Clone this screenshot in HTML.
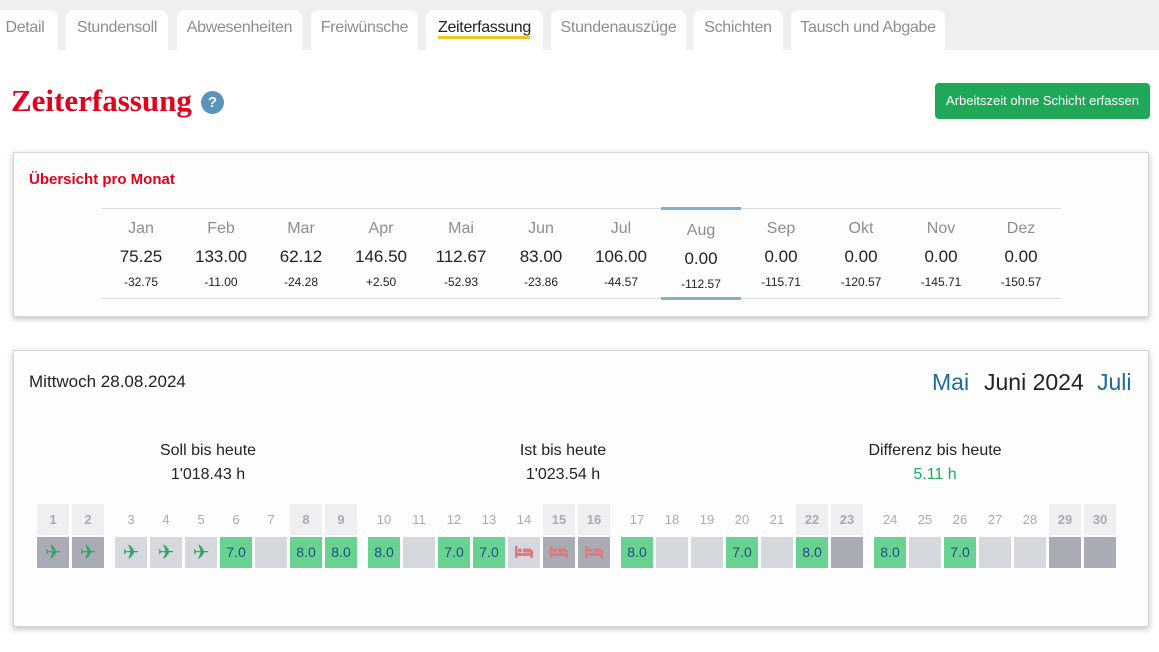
<!DOCTYPE html>
<html><head><meta charset="utf-8"><style>
*{box-sizing:border-box;margin:0;padding:0}
body{width:1159px;height:652px;background:#fff;font-family:"Liberation Sans Narrow","Liberation Sans",sans-serif;position:relative;overflow:hidden;color:#222}
.a{position:absolute}
.bar{left:0;top:0;width:1159px;height:50px;background:#eeeff1}
.tab{top:10px;height:40px;background:#fff;border-radius:8px 8px 0 0;color:#8a8d93;font-size:16px;line-height:36px;text-align:center;letter-spacing:-0.3px}
.card{background:#fdfdfd;border:1px solid #d6d6d6;box-shadow:0 2px 6px rgba(0,0,0,.25)}
.m{width:80px;text-align:center}
.c{width:32px;height:31px;text-align:center;font-size:13px}
.h{top:504px;line-height:31px;color:#a9abb0;font-size:13px}
.hw{background:#eeeff1;font-weight:bold}
.b{top:537px;line-height:31px;color:#1e4f7a;font-size:14px}
.dk{background:#a9acb4}.lt{background:#d5d8dc}.gr{background:#68d391}
.pl{color:#38a169;font-family:"DejaVu Sans",sans-serif;font-size:20px;line-height:31px}
</style></head><body>
<div class="a bar"></div>
<div class="a tab" style="left:-8px;width:66px">Detail</div>
<div class="a tab" style="left:66px;width:102px">Stundensoll</div>
<div class="a tab" style="left:177px;width:125px">Abwesenheiten</div>
<div class="a tab" style="left:311px;width:107px">Freiwünsche</div>
<div class="a tab" style="left:426px;width:117px;color:#222">Zeiterfassung</div>
<div class="a" style="left:438px;top:36px;width:92px;height:3px;background:#f5c518"></div>
<div class="a tab" style="left:551px;width:135px">Stundenauszüge</div>
<div class="a tab" style="left:693px;width:90px">Schichten</div>
<div class="a tab" style="left:791px;width:154px">Tausch und Abgabe</div>

<div class="a" style="left:11px;top:83px;font-family:'Liberation Serif',serif;font-weight:bold;font-size:31px;color:#e3001b">Zeiterfassung</div>
<div class="a" style="left:201px;top:91px;width:23px;height:23px;border-radius:50%;background:#5b93bd;color:#fff;font-weight:bold;font-size:15px;line-height:23px;text-align:center">?</div>
<div class="a" style="left:935px;top:83px;width:215px;height:36px;background:#1fa857;border-radius:4px;color:#fff;font-size:13px;line-height:36px;text-align:center">Arbeitszeit ohne Schicht erfassen</div>

<div class="a card" style="left:13px;top:152px;width:1136px;height:165px"></div>
<div class="a" style="left:29px;top:171px;color:#e3001b;font-weight:bold;font-size:15px">Übersicht pro Monat</div>
<div class="a" style="left:101px;top:208px;width:960px;height:1px;background:#dcdcdc"></div>
<div class="a" style="left:101px;top:298px;width:960px;height:1px;background:#dcdcdc"></div>
<div class="a" style="left:661px;top:207px;width:80px;height:3px;background:#88b0cc"></div>
<div class="a" style="left:661px;top:297px;width:80px;height:3px;background:#88b0cc"></div>
<div class="a" style="left:101px;top:220px;width:960px;height:80px;font-size:16px">
<div style="display:flex;color:#8a8d93"><div class="m">Jan</div><div class="m">Feb</div><div class="m">Mar</div><div class="m">Apr</div><div class="m">Mai</div><div class="m">Jun</div><div class="m">Jul</div><div class="m" style="margin-top:2px">Aug</div><div class="m">Sep</div><div class="m">Okt</div><div class="m">Nov</div><div class="m">Dez</div></div>
<div style="display:flex;margin-top:7px;color:#222;font-size:17px"><div class="m">75.25</div><div class="m">133.00</div><div class="m">62.12</div><div class="m">146.50</div><div class="m">112.67</div><div class="m">83.00</div><div class="m">106.00</div><div class="m" style="margin-top:2px">0.00</div><div class="m">0.00</div><div class="m">0.00</div><div class="m">0.00</div><div class="m">0.00</div></div>
<div style="display:flex;margin-top:6px;font-size:12px;color:#222"><div class="m">-32.75</div><div class="m">-11.00</div><div class="m">-24.28</div><div class="m">+2.50</div><div class="m">-52.93</div><div class="m">-23.86</div><div class="m">-44.57</div><div class="m" style="margin-top:2px">-112.57</div><div class="m">-115.71</div><div class="m">-120.57</div><div class="m">-145.71</div><div class="m">-150.57</div></div>
</div>

<div class="a card" style="left:13px;top:350px;width:1136px;height:277px"></div>
<div class="a" style="left:29px;top:372px;font-size:17px">Mittwoch 28.08.2024</div>
<div class="a" style="left:932px;top:369px;font-size:23px;color:#1e6b9a">Mai</div>
<div class="a" style="left:984px;top:369px;font-size:23px;color:#222">Juni 2024</div>
<div class="a" style="left:1097px;top:369px;font-size:23px;color:#1e6b9a">Juli</div>
<div class="a" style="left:108px;top:439px;width:200px;text-align:center;font-size:16px;line-height:24px">Soll bis heute<br>1'018.43 h</div>
<div class="a" style="left:463px;top:439px;width:200px;text-align:center;font-size:16px;line-height:24px">Ist bis heute<br>1'023.54 h</div>
<div class="a" style="left:835px;top:439px;width:200px;text-align:center;font-size:16px;line-height:24px">Differenz bis heute<br><span style="color:#1fa860">5.11 h</span></div>

<svg width="0" height="0" style="position:absolute"><defs><g id="bed"><rect x="0" y="0" width="2.5" height="12" fill="#e07a80"/><rect x="0" y="7" width="18" height="3" fill="#e07a80"/><rect x="15.5" y="4" width="2.5" height="8" fill="#e07a80"/><circle cx="5" cy="4.5" r="2" fill="#e07a80"/><rect x="8" y="2.5" width="8" height="4" fill="#e07a80"/></g></defs></svg>

<div class="a c h hw" style="left:37px">1</div><div class="a c h hw" style="left:72px">2</div>
<div class="a c h" style="left:115px">3</div><div class="a c h" style="left:150px">4</div><div class="a c h" style="left:185px">5</div><div class="a c h" style="left:220px">6</div><div class="a c h" style="left:255px">7</div><div class="a c h hw" style="left:290px">8</div><div class="a c h hw" style="left:325px">9</div>
<div class="a c h" style="left:368px">10</div><div class="a c h" style="left:403px">11</div><div class="a c h" style="left:438px">12</div><div class="a c h" style="left:473px">13</div><div class="a c h" style="left:508px">14</div><div class="a c h hw" style="left:543px">15</div><div class="a c h hw" style="left:578px">16</div>
<div class="a c h" style="left:621px">17</div><div class="a c h" style="left:656px">18</div><div class="a c h" style="left:691px">19</div><div class="a c h" style="left:726px">20</div><div class="a c h" style="left:761px">21</div><div class="a c h hw" style="left:796px">22</div><div class="a c h hw" style="left:831px">23</div>
<div class="a c h" style="left:874px">24</div><div class="a c h" style="left:909px">25</div><div class="a c h" style="left:944px">26</div><div class="a c h" style="left:979px">27</div><div class="a c h" style="left:1014px">28</div><div class="a c h hw" style="left:1049px">29</div><div class="a c h hw" style="left:1084px">30</div>

<div class="a c b dk pl" style="left:37px">✈</div><div class="a c b dk pl" style="left:72px">✈</div>
<div class="a c b lt pl" style="left:115px">✈</div><div class="a c b lt pl" style="left:150px">✈</div><div class="a c b lt pl" style="left:185px">✈</div><div class="a c b gr" style="left:220px">7.0</div><div class="a c b lt" style="left:255px"></div><div class="a c b gr" style="left:290px">8.0</div><div class="a c b gr" style="left:325px">8.0</div>
<div class="a c b gr" style="left:368px">8.0</div><div class="a c b lt" style="left:403px"></div><div class="a c b gr" style="left:438px">7.0</div><div class="a c b gr" style="left:473px">7.0</div>
<div class="a c b lt" style="left:508px"><svg width="18" height="12" style="margin-top:9px"><use href="#bed"/></svg></div>
<div class="a c b dk" style="left:543px"><svg width="18" height="12" style="margin-top:9px"><use href="#bed"/></svg></div>
<div class="a c b dk" style="left:578px"><svg width="18" height="12" style="margin-top:9px"><use href="#bed"/></svg></div>
<div class="a c b gr" style="left:621px">8.0</div><div class="a c b lt" style="left:656px"></div><div class="a c b lt" style="left:691px"></div><div class="a c b gr" style="left:726px">7.0</div><div class="a c b lt" style="left:761px"></div><div class="a c b gr" style="left:796px">8.0</div><div class="a c b dk" style="left:831px"></div>
<div class="a c b gr" style="left:874px">8.0</div><div class="a c b lt" style="left:909px"></div><div class="a c b gr" style="left:944px">7.0</div><div class="a c b lt" style="left:979px"></div><div class="a c b lt" style="left:1014px"></div><div class="a c b dk" style="left:1049px"></div><div class="a c b dk" style="left:1084px"></div>
</body></html>
